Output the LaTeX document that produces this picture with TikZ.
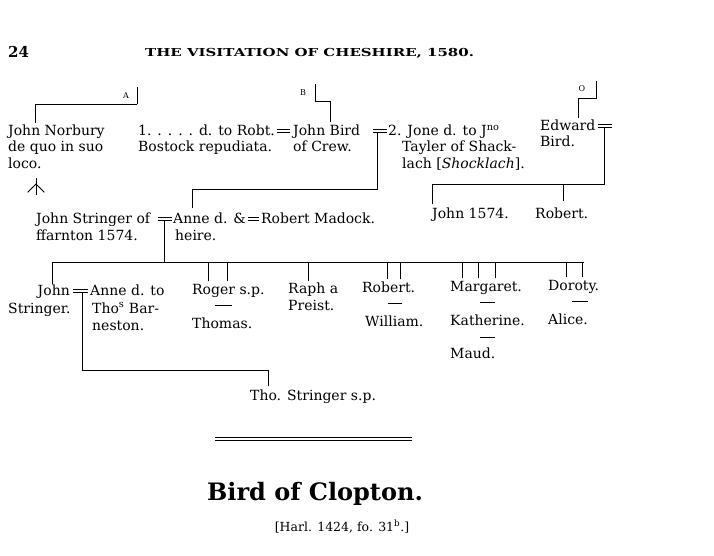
\documentclass[tikz,border=0pt]{standalone}
\usepackage{fontspec}
\setmainfont{DejaVu Serif}
\newfontfamily\bodyf{DejaVu Serif}
\begin{document}
\begin{tikzpicture}[x=1pt,y=-1pt,
  t/.style={anchor=base west, inner sep=0pt, font=\bodyf\fontsize{14}{16}\selectfont},
  tr/.style={t, anchor=base east},
  mk/.style={anchor=base, inner sep=0pt, font=\fontsize{8}{9}\selectfont},
  ln/.style={line width=0.8pt, line cap=rect},
  thin/.style={line width=0.6pt}]
\useasboundingbox (0,0) rectangle (714,556);
% header
\node[t, font=\fontsize{15}{17}\selectfont\bfseries] (pg) at (8,58) {24};
\node[t, font=\fontsize{11}{13}\selectfont\bfseries] (hd) at (145,57) {\scalebox{1.36}[1]{THE VISITATION OF CHESHIRE, 1580.}};
% marks A B O
\node[mk] (mA) at (126,99) {A};
\node[mk] (mB) at (303,96) {B};
\node[mk] (mO) at (582,92) {O};
\coordinate (a1) at (137,87); \coordinate (a2) at (137,104);
\coordinate (a3) at (35,104); \coordinate (a4) at (35,123);
\draw[thin] (a1) -- (a2);
\draw[ln] (a2) -- (a3) -- (a4);
\coordinate (b1) at (315,84); \coordinate (b2) at (315,101);
\coordinate (b3) at (330,101); \coordinate (b4) at (330,122);
\draw[ln] (b1) -- (b2) -- (b3) -- (b4);
\coordinate (c1) at (596,81); \coordinate (c2) at (596,98);
\coordinate (c3) at (578,98); \coordinate (c4) at (578,118);
\draw[ln] (c1) -- (c2) -- (c3) -- (c4);
% row 1
\node[t] (nb1) at (8,136) {John Norbury};
\node[t] (nb2) at (8,152) {de quo in suo};
\node[t] (nb3) at (8,168) {loco.};
\coordinate (d0) at (36,178); \coordinate (d1) at (36,195);
\coordinate (d2) at (36,184); \coordinate (dl) at (28,192); \coordinate (dr) at (44,192);
\draw[ln] (d0) -- (d1); \draw[ln] (dl) -- (d2) -- (dr);
\node[t] (bw1) at (138,136) {1. . . . . d. to Robt.};
\node[t] (bw2) at (138,152) {Bostock repudiata.};
\draw[thin] (277,129.5) -- (290,129.5) (277,132.5) -- (290,132.5);
\node[t] (jb1) at (293,136) {John Bird};
\node[t] (jb2) at (293,152) {of Crew.};
\draw[thin] (373,129.5) -- (387,129.5) (373,132.5) -- (387,132.5);
\node[t] (jo1) at (388,136) {2. Jone d. to J\textsuperscript{no}};
\node[t] (jo2) at (402,152) {Tayler of Shack-};
\node[t] (jo3) at (402,168) {lach [\textit{Shocklach}].};
\node[t] (ed1) at (540,131) {Edward};
\node[t] (ed2) at (540,147) {Bird.};
\draw[thin] (598,124.5) -- (612,124.5) (598,127.5) -- (612,127.5);
% descents row 1
\coordinate (e1) at (377,132.5); \coordinate (e2) at (377,189);
\coordinate (e3) at (192,189); \coordinate (e4) at (192,208);
\draw[ln] (e1) -- (e2) -- (e3) -- (e4);
\coordinate (f1) at (604,127.5); \coordinate (f2) at (604,184);
\coordinate (f3) at (432,184); \coordinate (f4) at (432,204);
\coordinate (f5) at (563,184); \coordinate (f6) at (563,201);
\draw[ln] (f1) -- (f2) -- (f3) -- (f4);
\draw[ln] (f5) -- (f6);
% row 2
\node[t] (js1) at (36,223) {John Stringer of};
\node[t] (js2) at (36,240) {ffarnton 1574.};
\draw[thin] (158,217.5) -- (172,217.5) (158,220.5) -- (172,220.5);
\node[t] (an1) at (173,223) {Anne d. \&};
\node[t] (an2) at (175,240) {heire.};
\draw[thin] (248,217.5) -- (259,217.5) (248,220.5) -- (259,220.5);
\node[t] (rm) at (261,223) {Robert Madock.};
\node[t] (j74) at (432,218) {John 1574.};
\node[t] (rb) at (535,218) {Robert.};
% children line
\coordinate (g1) at (164,220.5); \coordinate (g2) at (164,262);
\draw[ln] (g1) -- (g2);
\coordinate (gl) at (52,262); \coordinate (gr) at (584,262);
\draw[ln] (gl) -- (gr);
\foreach \xx/\yy in {52/284, 208/281, 227/281, 308/281, 387/279, 400/279, 462/278, 478/278, 495/278, 566/277, 582/277}
  \draw[ln] (\xx,262) -- (\xx,\yy);
% row 3
\node[tr] (jn) at (70,295) {John};
\node[t] (st) at (8,313) {Stringer.};
\draw[thin] (73,289.5) -- (88,289.5) (73,292.5) -- (88,292.5);
\node[t] (ad1) at (90,295) {Anne d. to};
\node[t] (ad2) at (92,313) {Tho\textsuperscript{s} Bar-};
\node[t] (ad3) at (92,330) {neston.};
\node[t] (rg) at (192,294) {Roger s.p.};
\draw[ln] (215,305) -- (232,305);
\node[t] (th) at (192,328) {Thomas.};
\node[t] (rp1) at (288,293) {Raph a};
\node[t] (rp2) at (288,310) {Preist.};
\node[t] (ro) at (362,292) {Robert.};
\draw[ln] (388,303) -- (402,303);
\node[t] (wi) at (365,326) {William.};
\node[t] (ma) at (450,291) {Margaret.};
\draw[ln] (480,302) -- (495,302);
\node[t] (ka) at (450,325) {Katherine.};
\draw[ln] (480,337) -- (495,337);
\node[t] (mu) at (450,358) {Maud.};
\node[t] (dr2) at (548,290) {Doroty.};
\draw[ln] (572,301) -- (588,301);
\node[t] (al) at (548,324) {Alice.};
% grandson
\coordinate (h1) at (82,292.5); \coordinate (h2) at (82,370);
\coordinate (h3) at (268,370); \coordinate (h4) at (268,386);
\draw[ln] (h1) -- (h2) -- (h3) -- (h4);
\node[t] (ts) at (250,400) {Tho. Stringer s.p.};
% separator
\draw[thin] (215,437) -- (412,437);
\draw[line width=1.1pt] (215,440.5) -- (412,440.5);
% title
\node[anchor=base, inner sep=0pt, font=\fontsize{24}{28}\selectfont\bfseries] (ti) at (315,500) {Bird of Clopton.};
\node[anchor=base, inner sep=0pt, font=\bodyf\fontsize{12.5}{14}\selectfont] (hr) at (342,531) {[Harl. 1424, fo. 31\textsuperscript{b}.]};
\end{tikzpicture}
\end{document}
